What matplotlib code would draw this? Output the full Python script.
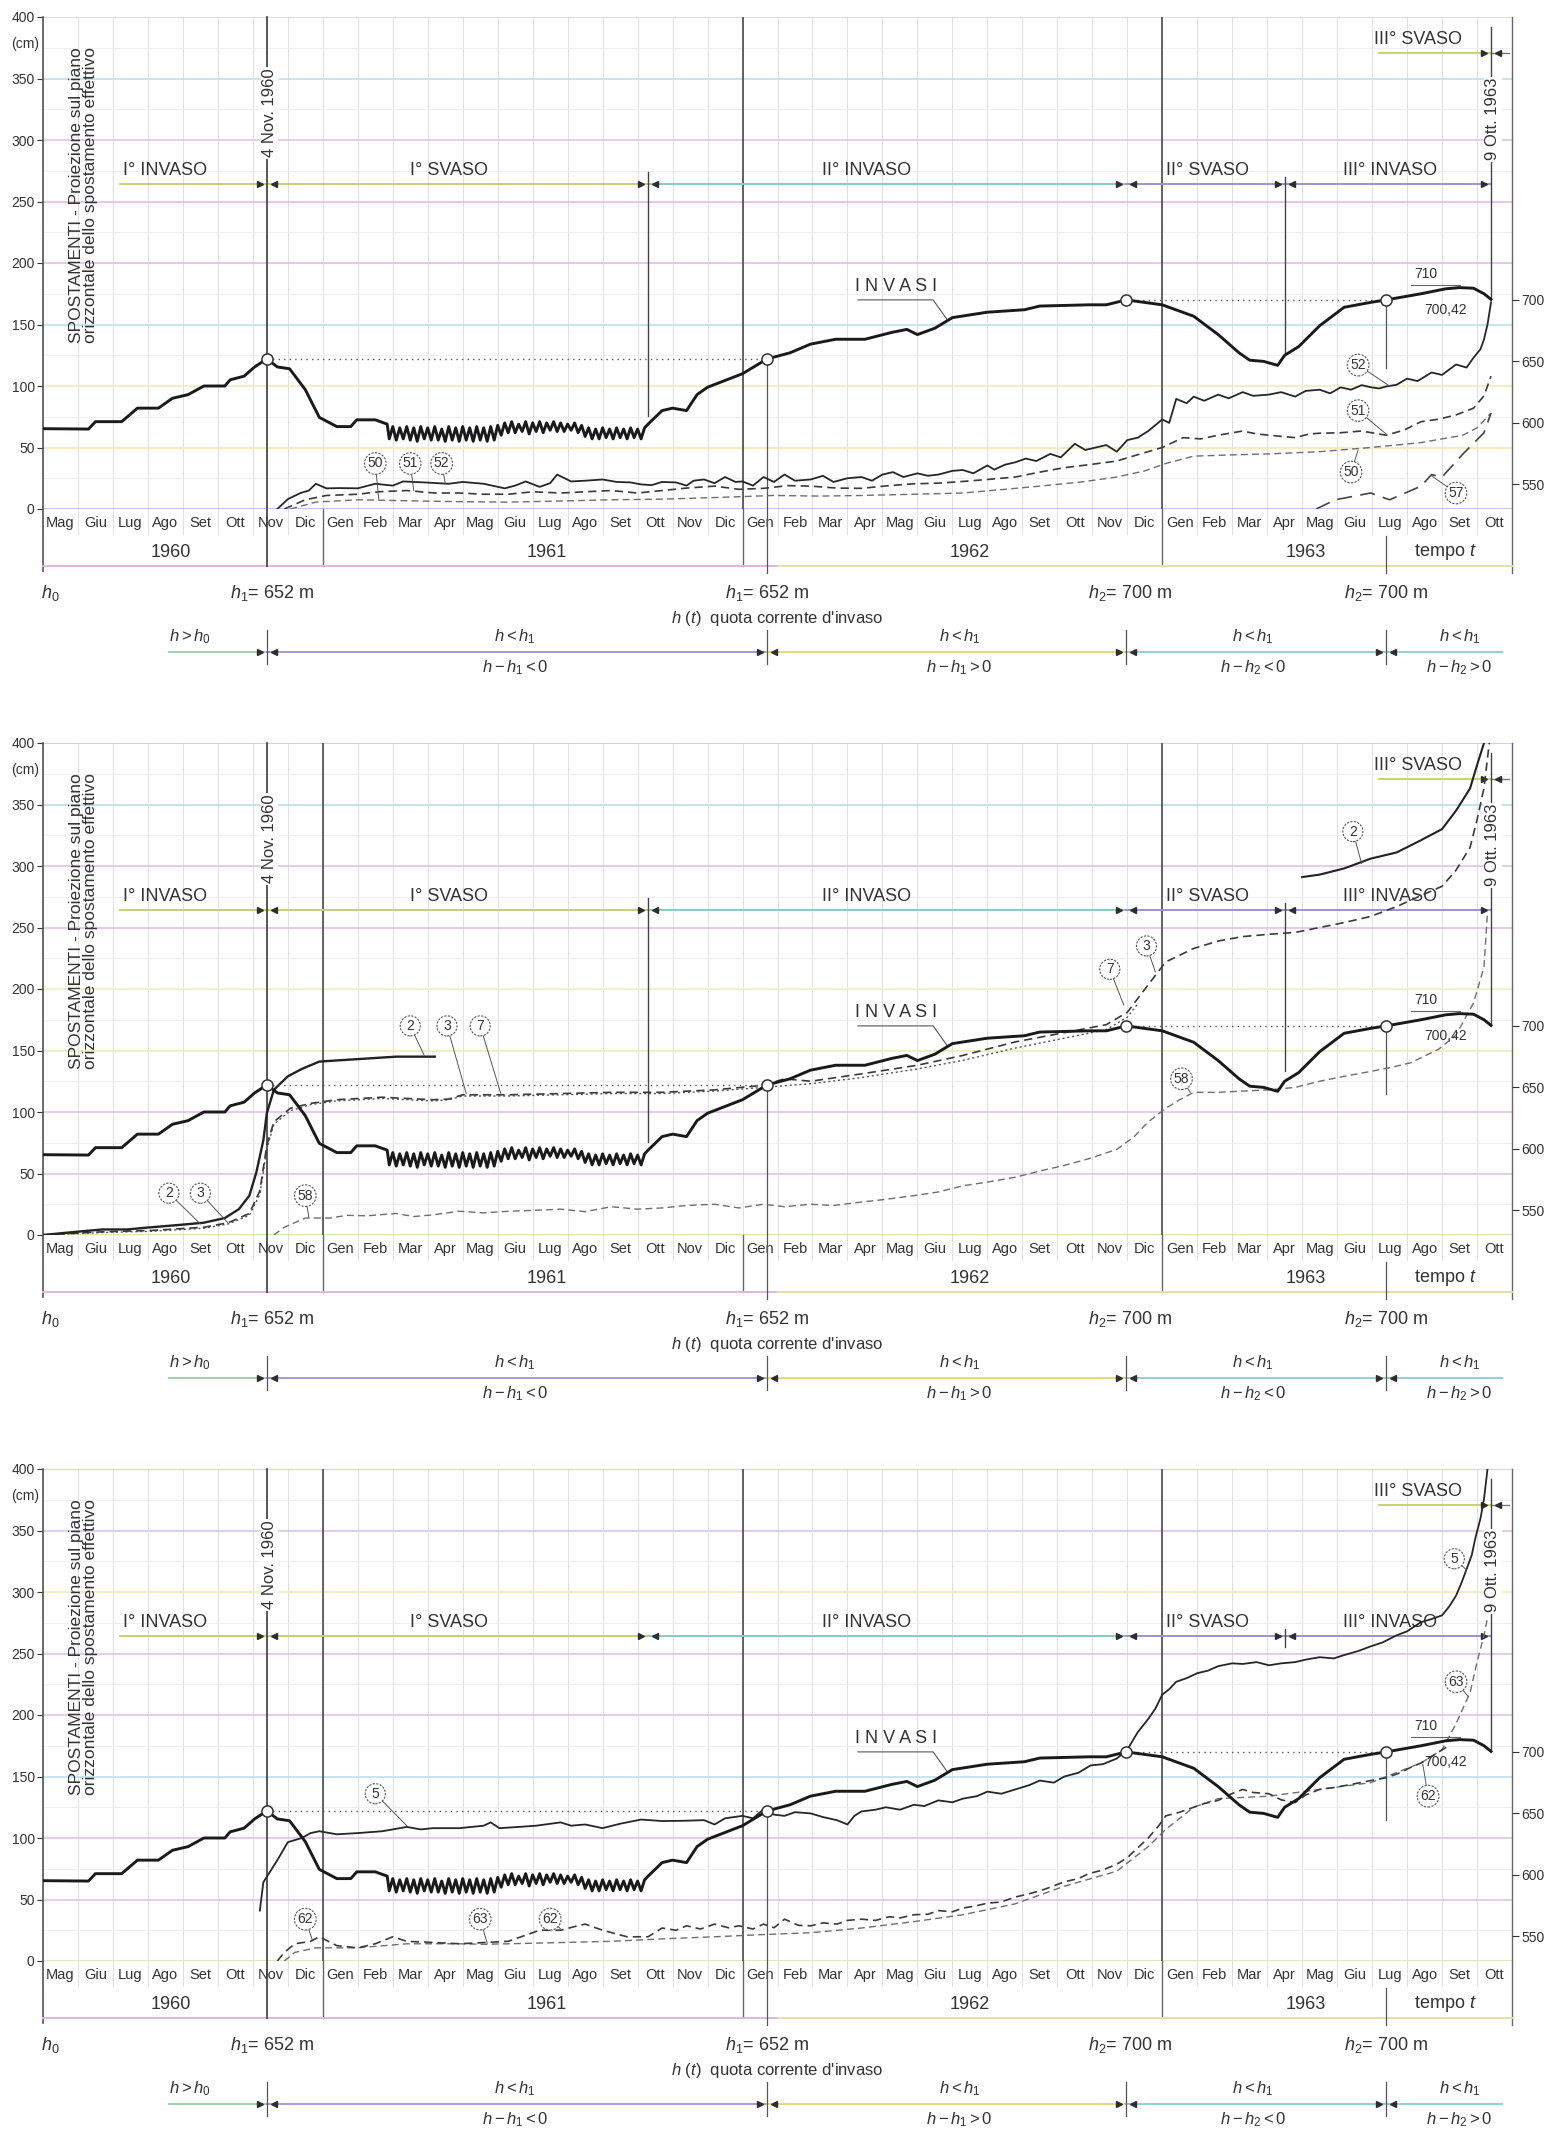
import matplotlib
matplotlib.use("Agg")
import matplotlib.pyplot as plt
from matplotlib import font_manager

names = {f.name for f in font_manager.fontManager.ttflist}
base = 'Liberation Sans Narrow' if 'Liberation Sans Narrow' in names else 'Liberation Sans'
plt.rcParams['font.family'] = [base, 'DejaVu Sans']
plt.rcParams['mathtext.fontset'] = 'custom'
plt.rcParams['mathtext.rm'] = base
plt.rcParams['mathtext.it'] = base + ':italic'

# time axis: month index, 0 = May 1960, 42 = end Oct 1963
month_names = (['Mag', 'Giu', 'Lug', 'Ago', 'Set', 'Ott', 'Nov', 'Dic']
               + ['Gen', 'Feb', 'Mar', 'Apr', 'Mag', 'Giu', 'Lug', 'Ago', 'Set', 'Ott', 'Nov', 'Dic'] * 2
               + ['Gen', 'Feb', 'Mar', 'Apr', 'Mag', 'Giu', 'Lug', 'Ago', 'Set', 'Ott'])
years = ['1960', '1961', '1962', '1963']
year_pos = [3.65, 14.4, 26.5, 36.1]
year_breaks = [8, 20, 32]

# key dates (month index)
nov4_1960 = 6.4
ott_1961 = 17.3
gen_1962 = 20.7
dic_1962 = 30.97
apr_1963 = 35.5
lug_1963 = 38.4
ott9_1963 = 41.4

phases = ['I° INVASO', 'I° SVASO', 'II° INVASO', 'II° SVASO', 'III° INVASO']
phase_pos = [3.5, 11.6, 23.55, 33.3, 38.5]

# reservoir level (m a.s.l.)
inv_rise = [(0.0, 595.3), (1.3, 595), (1.5, 601), (2.25, 601), (2.7, 612), (3.3, 612), (3.7, 620),
            (4.15, 623), (4.6, 630), (5.2, 630), (5.35, 635), (5.75, 638), (6.05, 645.5), (6.4, 652),
            (6.7, 645.5), (7.05, 644), (7.5, 627), (7.9, 604.5), (8.4, 597), (8.8, 597), (8.97, 602.5),
            (9.5, 602.5), (9.84, 599)]
inv_saw = [(9.9, 587), (10.0, 597), (10.1, 586), (10.2, 596), (10.3, 587), (10.4, 597), (10.5, 586),
           (10.6, 596), (10.7, 585), (10.8, 597), (10.9, 587), (11.0, 596), (11.1, 586), (11.2, 597),
           (11.3, 586), (11.4, 595), (11.5, 585), (11.6, 597), (11.7, 586), (11.8, 596), (11.9, 585),
           (12.0, 597), (12.1, 586), (12.2, 596), (12.3, 585), (12.4, 597), (12.5, 586), (12.6, 596),
           (12.7, 585), (12.8, 597), (12.9, 586), (13.0, 598), (13.1, 590), (13.2, 600), (13.3, 592),
           (13.4, 601), (13.5, 592), (13.6, 599), (13.7, 593), (13.8, 601), (13.9, 591), (14.0, 600),
           (14.1, 593), (14.2, 601), (14.3, 592), (14.4, 600), (14.5, 594), (14.6, 601), (14.7, 593),
           (14.8, 600), (14.9, 593), (15.0, 599), (15.1, 594), (15.2, 600), (15.3, 592), (15.4, 598),
           (15.5, 589), (15.6, 596), (15.7, 587), (15.8, 595), (15.9, 587), (16.0, 596), (16.1, 588),
           (16.2, 595), (16.3, 587), (16.4, 596), (16.5, 588), (16.6, 595), (16.7, 587), (16.8, 596),
           (16.9, 588), (17.0, 595), (17.1, 587), (17.2, 596)]
inv_late = [(17.3, 599), (17.7, 610), (18.0, 612), (18.4, 610), (18.7, 623), (19.0, 629), (19.5, 634.5),
            (20.0, 640), (20.7, 652), (21.36, 657), (21.94, 664), (22.66, 668), (23.5, 668), (24.27, 673.6),
            (24.7, 676), (25.0, 671.8), (25.5, 677), (26.0, 685.6), (27.0, 690), (28.06, 692), (28.5, 695),
            (29.9, 696), (30.4, 696), (30.97, 700), (32.0, 696), (32.9, 686.7), (33.6, 671.8), (34.2, 656.9),
            (34.5, 651), (34.9, 650), (35.3, 646.8), (35.5, 655), (35.9, 662), (36.5, 679), (37.2, 694),
            (37.96, 698), (38.4, 700), (39.4, 705), (40.1, 709), (40.5, 710), (40.9, 709.5), (41.2, 705),
            (41.4, 700.42)]
invasi = inv_rise + inv_saw + inv_late
h_marks = [(nov4_1960, 652), (gen_1962, 652), (dic_1962, 700), (lug_1963, 700)]

# displacements (cm), panel 1
c52 = [(6.7, 0), (7.0, 8), (7.36, 13), (7.6, 15), (7.8, 20.5), (8.1, 16.8), (8.5, 17), (9.0, 16.8), (9.5, 20.5),
       (10.0, 19), (10.3, 22.4), (10.9, 21.6), (11.6, 20.5), (12.0, 22), (12.6, 20.5), (13.2, 16.8), (13.5, 19),
       (13.8, 22.4), (14.2, 18), (14.5, 21), (14.7, 28), (15.1, 22.4), (15.5, 23), (16.0, 24), (16.4, 22),
       (16.8, 21.6), (17.1, 20), (17.4, 19.4), (17.7, 22), (18.1, 21.6), (18.4, 19), (18.6, 23), (18.9, 24),
       (19.2, 21), (19.5, 26), (19.8, 22), (20.0, 22.4), (20.3, 19), (20.6, 26), (20.9, 22), (21.2, 28),
       (21.5, 23), (21.95, 24), (22.3, 27), (22.6, 22), (23.0, 25), (23.4, 26), (23.7, 23), (24.0, 28),
       (24.3, 30), (24.6, 26), (25.0, 29), (25.3, 27), (25.6, 28), (26.0, 31), (26.3, 31.7), (26.6, 29),
       (27.0, 35.4), (27.2, 32), (27.5, 36), (27.8, 38), (28.1, 41), (28.4, 39), (28.8, 44.8), (29.1, 42),
       (29.5, 53), (29.8, 48), (30.1, 50), (30.4, 52), (30.7, 46.6), (31.0, 56), (31.3, 58), (31.6, 63.4),
       (32.0, 72.8), (32.2, 70), (32.4, 89.5), (32.7, 86), (32.9, 91.4), (33.2, 88), (33.6, 93), (33.9, 90),
       (34.3, 95), (34.6, 92), (35.05, 93), (35.4, 95), (35.8, 91.4), (36.1, 96), (36.5, 97), (36.8, 94),
       (37.1, 98.9), (37.4, 97), (37.7, 100.7), (37.96, 99), (38.2, 98), (38.4, 99.6), (38.7, 101), (39.0, 106),
       (39.3, 104), (39.7, 111), (40.0, 109), (40.4, 117.5), (40.7, 115), (40.9, 123), (41.1, 130), (41.2, 138),
       (41.3, 150), (41.4, 168)]
c51 = [(6.9, 0), (7.5, 7.5), (8.1, 11), (9.0, 12), (9.6, 14), (10.4, 15), (11.2, 13), (11.9, 13), (12.6, 12),
       (13.3, 12), (14.0, 14), (14.8, 13), (15.5, 14), (16.25, 15), (17.0, 13), (17.7, 15), (18.4, 17),
       (19.2, 18.6), (19.9, 16), (20.6, 16.8), (21.3, 19), (21.95, 18.6), (22.7, 17), (23.4, 16.8), (24.2, 19),
       (24.9, 20.5), (25.6, 21), (26.3, 22.4), (27.0, 24), (27.8, 26), (28.5, 30), (29.2, 33.6), (29.9, 36),
       (30.7, 39), (31.4, 45), (32.0, 50), (32.6, 58), (33.1, 57), (33.6, 60), (34.3, 63.4), (34.7, 61),
       (35.05, 60), (35.8, 58), (36.2, 61), (36.5, 61.6), (37.1, 62), (37.7, 63.4), (38.4, 60), (38.9, 64),
       (39.4, 71), (39.9, 73), (40.4, 76.5), (40.9, 82), (41.2, 92), (41.4, 108)]
c50 = [(7.07, 0), (7.8, 5.6), (9.0, 7.5), (10.4, 6.7), (11.8, 6), (13.3, 5.6), (14.8, 6.5), (16.25, 7.5),
       (17.7, 8), (19.2, 9.3), (20.9, 11), (22.2, 10.5), (23.4, 11), (24.9, 12), (26.3, 13), (27.5, 16),
       (28.5, 18.6), (29.7, 22), (30.7, 26), (31.5, 31), (32.1, 37), (32.9, 43), (34.0, 44), (35.05, 44.8),
       (36.5, 46.6), (37.96, 50), (39.4, 54), (40.6, 60), (41.0, 66), (41.4, 78)]
c57 = [(36.4, 0), (36.95, 7.5), (37.96, 13), (38.5, 7.5), (39.4, 18.6), (39.7, 28), (40.0, 26), (40.6, 44.8),
       (41.2, 62), (41.4, 78)]

# panel 2
c2_early = [(0, 0), (0.95, 2.6), (1.7, 4.5), (2.4, 4.5), (3.1, 6.3), (3.9, 8.2), (4.6, 10), (5.2, 13.8),
            (5.6, 21), (5.9, 32), (6.1, 51), (6.3, 77), (6.4, 99), (6.6, 118), (7.0, 129), (7.4, 135),
            (7.9, 141), (9.0, 143), (10.1, 145), (11.2, 145)]
c2_late = [(36.0, 291), (36.5, 293), (37.2, 298), (37.96, 306), (38.7, 311), (39.4, 321), (40.0, 330),
           (40.4, 345), (40.8, 363), (41.0, 382), (41.2, 400)]
c3 = [(0, 0), (1.7, 2.6), (3.1, 3.7), (4.6, 6.3), (5.3, 10), (5.9, 17.5), (6.2, 36), (6.4, 73), (6.6, 92),
      (7.07, 103), (7.65, 107), (8.4, 110), (9.7, 112), (10.4, 111), (11.15, 110), (11.6, 110.5), (12.0, 114),
      (13.3, 114), (14.8, 115), (16.25, 116), (17.7, 116), (19.2, 118), (20.6, 121.7), (21.2, 127),
      (21.95, 125), (23.4, 131), (25.0, 138), (26.3, 146), (27.8, 157), (29.2, 164.5), (30.4, 171), (31.0, 181),
      (31.6, 203.5), (32.1, 222), (32.9, 233), (33.6, 239), (34.3, 242.6), (35.05, 244.5), (35.8, 246),
      (36.5, 250), (37.2, 254), (37.96, 259), (38.7, 267), (39.4, 276), (40.0, 283.5), (40.4, 296.6),
      (40.8, 315), (41.0, 337.5), (41.2, 363.5), (41.35, 400)]
c7 = [(0, 0), (1.7, 2), (3.1, 3), (4.6, 5.5), (5.3, 9), (5.9, 16), (6.2, 33), (6.4, 70), (6.6, 90), (7.07, 101),
      (7.65, 106), (8.4, 109), (9.7, 111), (10.4, 110), (11.15, 109), (11.6, 110), (12.0, 113), (13.3, 113),
      (14.8, 114), (16.25, 115), (17.7, 115), (19.2, 117), (20.6, 120), (21.95, 123), (23.4, 128), (25.0, 135),
      (26.3, 142), (27.8, 152), (29.2, 160), (30.4, 167), (31.0, 177), (31.3, 188)]
c58 = [(6.6, 0), (6.9, 6.3), (7.5, 13.8), (8.2, 13.8), (8.7, 16), (9.26, 15.6), (10.1, 17.5), (10.6, 15),
       (11.15, 16.4), (11.9, 19.3), (12.6, 18), (13.3, 19.3), (14.0, 20), (14.8, 21), (15.5, 19), (16.25, 23),
       (17.0, 21), (17.7, 22), (18.4, 24), (19.2, 25), (19.9, 22), (20.6, 25), (21.2, 23), (21.95, 25),
       (22.6, 24), (23.4, 26.8), (24.1, 29), (24.9, 32), (25.6, 35), (26.3, 40), (27.0, 43), (27.8, 47),
       (28.5, 52), (29.2, 56.6), (29.9, 62), (30.7, 69.6), (31.2, 80), (31.6, 92), (32.1, 103), (32.5, 110),
       (32.9, 116), (33.6, 116), (34.3, 117), (35.05, 118), (35.8, 120), (36.5, 125), (37.2, 129),
       (37.96, 133), (38.5, 136), (39.1, 140), (39.9, 151), (40.4, 162.6), (40.9, 188.6), (41.2, 218),
       (41.3, 263)]

# panel 3
c5 = [(6.2, 41), (6.3, 64), (6.5, 73), (6.7, 82), (7.0, 96.6), (7.4, 100), (7.65, 104), (7.9, 105.5), (8.4, 103),
      (9.0, 104), (9.7, 105.5), (10.4, 109), (10.8, 107), (11.15, 108), (11.9, 108), (12.6, 110), (12.8, 112.7),
      (13.05, 108), (13.6, 109), (14.1, 110), (14.8, 112.7), (15.1, 110), (15.5, 111), (16.0, 108),
      (16.5, 111.6), (17.1, 115), (17.7, 113.8), (18.3, 114), (18.9, 114.5), (19.2, 111), (19.5, 116),
      (20.0, 118), (20.3, 116), (20.6, 123.4), (20.9, 119), (21.2, 118), (21.5, 121), (21.95, 120), (22.3, 117),
      (22.7, 114.5), (23.0, 111), (23.2, 118), (23.4, 121.6), (23.8, 123), (24.1, 125), (24.5, 123),
      (24.9, 127), (25.2, 126), (25.6, 130.6), (26.0, 129), (26.3, 132), (26.7, 134), (27.0, 137.7),
      (27.4, 136), (27.8, 139.5), (28.2, 143), (28.5, 146.7), (28.9, 145), (29.2, 150), (29.6, 153),
      (29.95, 159), (30.3, 160), (30.7, 164.6), (31.0, 171.7), (31.3, 186), (31.6, 196.8), (31.8, 205),
      (32.0, 216.5), (32.2, 221), (32.4, 227), (32.7, 230), (33.0, 234), (33.3, 236), (33.6, 239.7),
      (34.0, 242), (34.3, 241.5), (34.7, 243), (35.05, 240.4), (35.4, 242), (35.8, 243), (36.1, 245),
      (36.5, 247), (36.9, 246), (37.2, 248.7), (37.6, 252), (37.96, 255.8), (38.3, 259), (38.7, 264.8),
      (39.0, 268), (39.4, 275.5), (39.7, 278), (40.0, 281), (40.2, 288), (40.4, 297), (40.55, 307),
      (40.7, 318.5), (40.85, 330), (40.95, 343.5), (41.1, 360), (41.2, 375.7), (41.3, 400)]
c62 = [(6.7, 0), (6.9, 7), (7.2, 14), (7.65, 16), (7.9, 19.7), (8.4, 12.5), (9.0, 10.7), (9.5, 14), (10.0, 19.7),
       (10.4, 16), (11.2, 15), (11.9, 14), (12.6, 15), (13.3, 16), (13.7, 20), (14.2, 25), (14.8, 25), (15.2, 28),
       (15.5, 30), (16.0, 25), (16.7, 19.7), (17.3, 19.7), (17.7, 26.8), (18.1, 25), (18.4, 28.6), (18.8, 26),
       (19.2, 30), (19.6, 27), (19.9, 28.6), (20.3, 26), (20.6, 30), (20.9, 27), (21.2, 34), (21.6, 29),
       (21.95, 28.6), (22.3, 31), (22.7, 30), (23.0, 33), (23.4, 34), (23.8, 33), (24.2, 36), (24.5, 35),
       (24.9, 37.6), (25.3, 38), (25.6, 41), (26.0, 40), (26.3, 43), (26.7, 45), (27.0, 47), (27.4, 48),
       (27.8, 52), (28.1, 54), (28.5, 57), (28.8, 60), (29.2, 64.4), (29.6, 67), (29.9, 71), (30.3, 74),
       (30.7, 78.7), (31.0, 84), (31.3, 92), (31.6, 100), (31.9, 110), (32.1, 118), (32.5, 121), (32.9, 125),
       (33.2, 128), (33.6, 130.6), (33.9, 135), (34.3, 139.5), (34.6, 137), (35.05, 136), (35.4, 131),
       (35.8, 128.8), (36.1, 135), (36.5, 139.5), (36.9, 141), (37.3, 143), (37.96, 146.7), (38.4, 149),
       (38.8, 153), (39.1, 157.4), (39.4, 161), (39.6, 164.6), (39.8, 168), (40.0, 171.7), (40.2, 175)]
c63 = [(6.9, 0), (7.2, 7), (7.8, 10.7), (8.4, 10.7), (9.0, 10.7), (10.4, 14), (11.9, 14), (12.6, 13.6), (13.3, 14),
       (14.8, 15), (16.25, 16), (17.7, 18), (19.2, 19.7), (20.6, 21.5), (21.95, 23), (23.4, 26.8), (24.9, 32),
       (26.3, 37.6), (27.8, 46.5), (29.2, 60.8), (30.7, 73), (31.6, 93), (32.1, 107), (32.9, 125), (33.6, 132),
       (35.05, 134), (36.5, 139.5), (37.96, 145), (39.4, 161), (40.0, 171.7), (40.4, 193), (40.8, 218),
       (41.0, 243), (41.2, 265), (41.3, 279)]

ink = '#2e2e2e'
solid = dict(color='#262626', lw=1.3)
dashed = dict(color='#3a3a3a', lw=1.2, ls=(0, (5, 3)))
light = dict(color='#6e6e6e', lw=1.0, ls=(0, (5, 3)))
longdash = dict(color='#444444', lw=1.2, ls=(0, (9, 5)))
dotted = dict(color='#555555', lw=1.0, ls=(0, (1.5, 2)))

panels = [
    dict(curves=[(c50, light), (c51, dashed), (c52, solid), (c57, longdash)],
         tags=[('50', 9.5, 37, 9.6, 8), ('51', 10.5, 37, 10.6, 15), ('52', 11.4, 37, 11.5, 21),
               ('52', 37.6, 117, 38.5, 100), ('51', 37.6, 80, 38.4, 61), ('50', 37.4, 30, 37.6, 48),
               ('57', 40.4, 13, 39.7, 27)],
         dark=[20, 32], ott_line=True, apr_low=125,
         hcol=['#c0bbe9', '#f1ebba', '#f3edbd', '#c3e2ee', '#e3c3eb', '#e6c2e9', '#e6c6ec', '#c3e2ef', '#d5e7ab']),
    dict(curves=[(c58, light), (c7, dotted), (c3, dashed), (c2_early, dict(color='#222', lw=1.7)),
                 (c2_late, dict(color='#222', lw=1.5))],
         tags=[('2', 3.6, 34, 4.5, 9), ('3', 4.5, 34, 5.3, 9.5), ('58', 7.5, 32, 7.6, 14.5),
               ('2', 10.5, 170, 10.9, 146), ('3', 11.55, 170, 12.1, 115), ('7', 12.5, 170, 13.1, 114),
               ('7', 30.5, 216, 30.9, 187), ('3', 31.55, 235, 31.8, 214), ('58', 32.55, 127, 32.8, 116),
               ('2', 37.45, 328, 37.7, 302)],
         dark=[8, 32], ott_line=True, apr_low=133,
         hcol=['#cce9ab', '#e4c7ec', '#e6c6ec', '#f3ebbd', '#f2eec3', '#e4c6ec', '#e3c6ea', '#c3dfec', '#dec2e9']),
    dict(curves=[(c63, light), (c62, dashed), (c5, solid)],
         tags=[('5', 9.5, 136, 10.4, 110), ('62', 7.5, 34, 7.7, 17), ('63', 12.5, 34, 12.7, 14.5),
               ('62', 14.5, 34, 14.8, 26), ('5', 40.35, 327, 40.7, 318), ('63', 40.4, 227, 40.75, 215),
               ('62', 39.6, 134, 39.45, 160)],
         dark=[8, 20, 32], ott_line=False, apr_low=255,
         hcol=['#d6ebb7', '#e3c6ea', '#e4c6ec', '#c3e2ef', '#e4c6ec', '#e3c6ea', '#f3edc0', '#e3c6ea', '#d9c7ec']),
]

W, H = 1559, 2132
fig = plt.figure(figsize=(W / 100, H / 100), dpi=100)


def xy(points):
    return [p[0] for p in points], [p[1] for p in points]


def seg(ax, x0, x1, y, color, lw=1.4):
    ax.plot([x0, x1], [y, y], color=color, lw=lw, clip_on=False, zorder=2)


def arrows(ax, xb, y, both=True):
    ax.plot(xb - 0.2, y, marker='>', ms=5, color=ink, clip_on=False, zorder=4)
    if both:
        ax.plot(xb + 0.2, y, marker='<', ms=5, color=ink, clip_on=False, zorder=4)


def draw_panel(k, p):
    off = k * 726
    ax = fig.add_axes([43 / W, 1 - (509 + off) / H, 1469 / W, 492 / H])
    ax.set_xlim(0, 42)
    ax.set_ylim(0, 400)
    for s in ax.spines.values():
        s.set_visible(False)

    # grid
    for i in range(43):
        ax.plot([i, i], [-20, 400], color='#d9d9d9', lw=0.6, clip_on=False, zorder=1)
    for lev in range(25, 400, 50):
        ax.axhline(lev, color='#edf1f4', lw=0.8, zorder=1)
    for lev, c in zip(range(0, 401, 50), p['hcol']):
        ax.axhline(lev, color=c, lw=1.3, zorder=1)
    ax.plot([0, 0], [-50, 400], color='#555', lw=1.2, clip_on=False, zorder=2)
    ax.plot([42, 42], [-52, 400], color='#666', lw=1.0, clip_on=False, zorder=2)
    for xb in year_breaks:
        ax.plot([xb, xb], [-46, 0], color='#666', lw=1.0, clip_on=False, zorder=2)
    for xb in p['dark']:
        ax.plot([xb, xb], [0, 400], color='#4a4a4a', lw=1.2, zorder=2)
    seg(ax, 0, 21, -46, '#e0b6dd')
    seg(ax, 21, 42, -46, '#e6e0a2')

    # ticks
    ax.set_xticks([i + 0.5 for i in range(42)])
    ax.set_xticklabels(month_names, fontsize=10.5, color='#333')
    ax.tick_params(axis='x', length=0, pad=5)
    ax.set_yticks(range(0, 401, 50))
    ax.tick_params(axis='y', length=4, width=0.8, pad=2, labelsize=10, colors='#333')
    ax.text(-0.12, 378, '(cm)', ha='right', va='center', fontsize=10, color='#333')
    ax.text(1.15, 255, 'SPOSTAMENTI - Proiezione sul piano\norizzontale dello spostamento effettivo',
            rotation=90, ha='center', va='center', fontsize=12.5, color='#333', linespacing=0.95)

    # year row and level labels
    for yr, xp in zip(years, year_pos):
        ax.text(xp, -35, yr, ha='center', va='center', fontsize=13, color='#333')
    ax.text(40.1, -35, 'tempo $t$', ha='center', va='center', fontsize=13, color='#333')
    ax.text(0.2, -68, '$h_0$', ha='center', va='center', fontsize=13, color='#333')
    for xp, txt in [(nov4_1960 + 0.15, '$h_1$= 652 m'), (gen_1962, '$h_1$= 652 m'),
                    (dic_1962 + 0.1, '$h_2$= 700 m'), (lug_1963, '$h_2$= 700 m')]:
        ax.text(xp, -68, txt, ha='center', va='center', fontsize=13, color='#333')
    ax.text(21.0, -89, "$h\\ (t)$  quota corrente d'invaso", ha='center', va='center', fontsize=12, color='#333')

    # level condition arrows
    ya = -116
    seg(ax, 3.6, 6.4, ya, '#9fd3a8')
    seg(ax, 6.4, 20.7, ya, '#a996d6')
    seg(ax, 20.7, 30.97, ya, '#e2d97c')
    seg(ax, 30.97, 41.7, ya, '#8fd0d6')
    for xb in [nov4_1960, gen_1962, dic_1962, lug_1963]:
        ax.plot([xb, xb], [-98, -126], color='#555', lw=0.9, clip_on=False)
        arrows(ax, xb, ya)
    conds = [(4.2, '$h > h_0$', None), (13.5, '$h < h_1$', '$h - h_1 < 0$'),
             (26.2, '$h < h_1$', '$h - h_1 > 0$'), (34.6, '$h < h_1$', '$h - h_2 < 0$'),
             (40.5, '$h < h_1$', '$h - h_2 > 0$')]
    for xp, top, bot in conds:
        ax.text(xp, -104, top, ha='center', va='center', fontsize=12, color='#333')
        if bot:
            ax.text(xp, -129, bot, ha='center', va='center', fontsize=12, color='#333')

    # event lines
    ax.plot([nov4_1960] * 2, [-46, 400], color='#3a3a3a', lw=1.2, clip_on=False, zorder=3)
    ax.text(nov4_1960 + 0.08, 322, '4 Nov. 1960', rotation=90, ha='center', va='center', fontsize=12,
            color='#333', zorder=4, bbox=dict(fc='white', ec='none', pad=1))
    ax.plot([gen_1962] * 2, [-52, 122], color='#555', lw=0.9, clip_on=False, zorder=3)
    ax.plot([lug_1963] * 2, [115, 170], color='#555', lw=0.9, zorder=3)
    ax.plot([lug_1963] * 2, [-52, -22], color='#555', lw=0.9, clip_on=False, zorder=3)
    if p['ott_line']:
        ax.plot([ott_1961] * 2, [76, 274], color='#444', lw=1.0, zorder=3)
    ax.plot([apr_1963] * 2, [p['apr_low'], 270], color='#444', lw=1.0, zorder=3)
    ax.plot([ott9_1963] * 2, [172, 392], color='#444', lw=1.0, zorder=3)
    ax.text(ott9_1963 + 0.05, 317, '9 Ott. 1963', rotation=90, ha='center', va='center', fontsize=12,
            color='#333', zorder=4, bbox=dict(fc='white', ec='none', pad=1))

    # phases
    yp = 264
    seg(ax, 2.2, ott_1961, yp, '#c9cf72')
    seg(ax, ott_1961, dic_1962, yp, '#86cbc4')
    seg(ax, dic_1962, ott9_1963, yp, '#9a94cf')
    for xb in [nov4_1960, ott_1961, dic_1962, apr_1963]:
        arrows(ax, xb, yp)
    arrows(ax, ott9_1963, yp, both=False)
    for name, xp in zip(phases, phase_pos):
        ax.text(xp, 268, name, ha='center', va='bottom', fontsize=13, color='#333')
    seg(ax, 38.2, ott9_1963, 371, '#c9d46a')
    arrows(ax, ott9_1963, 371)
    seg(ax, ott9_1963, 41.9, 371, '#777', lw=1.0)
    ax.text(39.3, 375, 'III° SVASO', ha='center', va='bottom', fontsize=13, color='#333')

    # displacement curves
    for pts, st in p['curves']:
        x, y = xy(pts)
        ax.plot(x, y, zorder=5, **st)
    for txt, tx, ty, lx, ly in p['tags']:
        ax.plot([tx, lx], [ty, ly], color='#555', lw=0.7, zorder=5)
        ax.text(tx, ty, txt, ha='center', va='center', fontsize=10, color='#333', zorder=7,
                bbox=dict(boxstyle='circle,pad=0.22', fc='white', ec='#555', lw=0.8, ls=(0, (2, 1.2))))

    # reservoir level on the right axis
    ax2 = ax.twinx()
    ax2.set_ylim(530, 930)
    for s in ax2.spines.values():
        s.set_visible(False)
    ax2.set_yticks([550, 600, 650, 700])
    ax2.tick_params(axis='y', length=5, width=0.8, pad=2, labelsize=10, colors='#333')
    ax2.plot([nov4_1960, gen_1962], [652, 652], color='#555', lw=1.0, ls=(0, (1, 3)), zorder=3)
    ax2.plot([dic_1962, lug_1963], [700, 700], color='#555', lw=1.0, ls=(0, (1, 3)), zorder=3)
    x, y = xy(invasi)
    ax2.plot(x, y, color='#1a1a1a', lw=2.1, zorder=6)
    mx, my = xy(h_marks)
    ax2.plot(mx, my, 'o', ms=8, mfc='white', mec='#333', mew=1.1, zorder=7)
    ax2.text(24.4, 704, 'I N V A S I', ha='center', va='bottom', fontsize=13, color='#333')
    ax2.plot([23.3, 25.45, 25.85], [700, 700, 684], color='#555', lw=0.8)
    ax2.text(39.55, 715, '710', ha='center', va='bottom', fontsize=10, color='#333')
    ax2.plot([39.1, 40.5], [712, 712], color='#666', lw=0.8)
    ax2.text(40.1, 692, '700,42', ha='center', va='center', fontsize=10, color='#333')


for k, p in enumerate(panels):
    draw_panel(k, p)

fig.savefig('out.png', dpi=100, facecolor='white')
